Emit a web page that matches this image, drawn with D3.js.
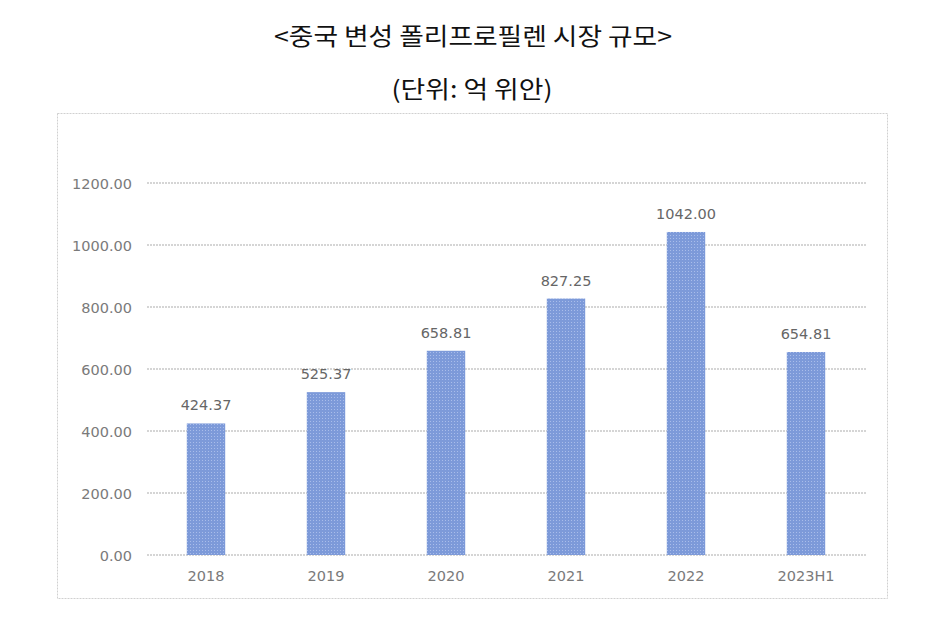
<!DOCTYPE html>
<html><head><meta charset="utf-8">
<script src="https://cdn.jsdelivr.net/npm/d3@7"></script>
<style>body{margin:0;background:#fff;}</style>
</head><body>
<svg id="c" width="929" height="634"></svg>
<script>
const categories = ["2018","2019","2020","2021","2022","2023H1"];
const values = [424.37, 525.37, 658.81, 827.25, 1042.00, 654.81];
const yTicks = [0,200,400,600,800,1000,1200];
const title = "<중국 변성 폴리프로필렌 시장 규모>";
const subtitle = "(단위: 억 위안)";

const svg = d3.select("#c");
const kfont = "'Noto Sans CJK KR', 'Noto Sans', sans-serif";
const afont = "'DejaVu Sans', 'Liberation Sans', sans-serif";

const defs = svg.append("defs");
const pat = defs.append("pattern").attr("id","dots").attr("patternUnits","userSpaceOnUse")
  .attr("width",3).attr("height",3);
pat.append("rect").attr("width",3).attr("height",3).attr("fill","#7d9ad9");
pat.append("rect").attr("x",1).attr("y",1).attr("width",1).attr("height",1).attr("fill","#a9bdea");

svg.append("text").attr("x",473).attr("y",45).attr("text-anchor","middle")
  .attr("font-family",kfont).attr("font-size",24).attr("fill","#111")
  .attr("textLength",398).attr("lengthAdjust","spacingAndGlyphs").text(title);
svg.append("text").attr("x",472).attr("y",98).attr("text-anchor","middle")
  .attr("font-family",kfont).attr("font-size",24).attr("fill","#111")
  .attr("textLength",161).attr("lengthAdjust","spacingAndGlyphs").text(subtitle);

// chart frame
svg.append("rect").attr("x",57.5).attr("y",113.5).attr("width",830).attr("height",485)
  .attr("fill","none").attr("stroke","#d0d0d0").attr("stroke-width",1).attr("stroke-dasharray","2,1");

const x = d3.scaleBand().domain(categories).range([146,866]).paddingInner(0.68).paddingOuter(0.34);
const y = d3.scaleLinear().domain([0,1200]).range([555,183]);

// gridlines
svg.append("g").selectAll("line").data(yTicks).join("line")
  .attr("x1",147).attr("x2",866).attr("y1",d=>y(d)).attr("y2",d=>y(d))
  .attr("stroke","#c8c8c8").attr("stroke-width",1.5).attr("stroke-dasharray","2,1");

// y axis labels
const ya = d3.axisLeft(y).tickValues(yTicks).tickFormat(d3.format(".2f")).tickSize(0).tickPadding(0);
const yg = svg.append("g").attr("transform","translate(132,0)").call(ya);
yg.select(".domain").remove();
yg.selectAll("text").attr("font-family",afont).attr("font-size",14.5).attr("fill","#7a7a7a").attr("dy","0.36em");

// bars
svg.append("g").selectAll("rect").data(values).join("rect")
  .attr("x",(d,i)=>x(categories[i])).attr("width",x.bandwidth())
  .attr("y",d=>y(d)).attr("height",d=>y(0)-y(d))
  .attr("fill","url(#dots)");

// value labels
svg.append("g").selectAll("text").data(values).join("text")
  .attr("x",(d,i)=>x(categories[i])+x.bandwidth()/2).attr("y",d=>y(d)-13)
  .attr("text-anchor","middle").attr("font-family",afont).attr("font-size",14.5).attr("fill","#666")
  .text(d=>d3.format(".2f")(d));

// x axis labels
const xa = d3.axisBottom(x).tickSize(0).tickPadding(0);
const xg = svg.append("g").attr("transform","translate(0,570)").call(xa);
xg.select(".domain").remove();
xg.selectAll("text").attr("font-family",afont).attr("font-size",14.5).attr("fill","#7a7a7a").attr("dy","0.76em");
</script>
</body></html>
